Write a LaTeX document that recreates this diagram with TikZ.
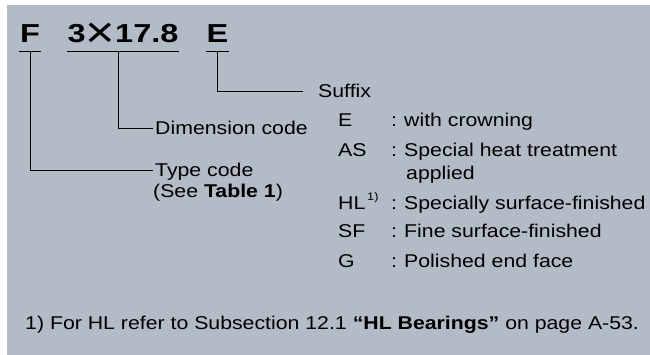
\documentclass[tikz,border=0pt]{standalone}
\usepackage{fontspec}
\setmainfont{Liberation Sans}[FakeStretch=1.15]
\newfontfamily\bigfont{Liberation Sans}[FakeStretch=1.25]
\usetikzlibrary{positioning}
\definecolor{panelgray}{RGB}{179,187,199}
\newcommand\crosssign{{\normalfont\fontsize{44}{44}\selectfont\raisebox{-4.5pt}{×}}}

\begin{document}
\begin{tikzpicture}[x=1pt,y=-1pt,
  every node/.style={inner sep=0pt, font=\fontsize{18.5}{22}\selectfont},
  code/.style={anchor=base, font=\bigfont\bfseries\fontsize{26}{30}\selectfont, text depth=8pt},
  label/.style={anchor=west, inner xsep=2pt, text height=14pt, text depth=0pt},
  key/.style={anchor=base west},
  lead/.style={line width=0.9pt},
  ]
  \useasboundingbox (0,0) rectangle (650,355);
  \fill[panelgray] (7,5) rectangle (650,355);

  % bearing number
  \node[code, minimum width=22pt]  (c_F)   at (30,43)    {F};
  \node[code, minimum width=110pt] (c_dim) at (123,43)   {3\crosssign17.8};
  \node[code, minimum width=20pt]  (c_E)   at (217.5,43) {E};
  \foreach \n in {c_F,c_dim,c_E}
    \draw[lead] (\n.south west) -- (\n.south east);

  % labels
  \node[label] (l_suffix) at (316,91)  {Suffix};
  \node[label] (l_dim)    at (153,128) {Dimension code};
  \node[label] (l_type)   at (153,170) {Type code};
  \node[key]   (l_ref) [below=21pt of l_type.base west, anchor=base west] {(See \textbf{Table 1})};

  \draw[lead] (c_F.south) |- (l_type.west);
  \draw[lead] ([xshift=-5pt]c_dim.south) |- (l_dim.west);
  \draw[lead, shorten >=13pt] (c_E.south) |- (l_suffix.west);

  % suffix list
  \node[key] (k_E)  at (338,127) {E};
  \node[key] (k_AS) at (338,157) {AS};
  \node[key] (k_HL) at (338,210) {HL\raisebox{9pt}{\fontsize{11}{11}\selectfont\,1)}};
  \node[key] (k_SF) at (338,238) {SF};
  \node[key] (k_G)  at (338,267) {G};

  \foreach \k/\txt in {E/with crowning, AS/Special heat treatment,
      HL/Specially surface-finished, SF/Fine surface-finished, G/Polished end face}{
    \node[key] (s_\k) at (391,0 |- k_\k.base) {:};
    \node[key] (d_\k) at (404,0 |- k_\k.base) {\txt};
  }
  \node[key] (d_AS2) [below=23pt of d_AS.base west, anchor=base west, xshift=2pt] {applied};

  % footnote
  \node[key] (note) at (25,329)
    {1) For HL refer to Subsection 12.1 \textbf{“HL Bearings”} on page A-53.};
\end{tikzpicture}
\end{document}
